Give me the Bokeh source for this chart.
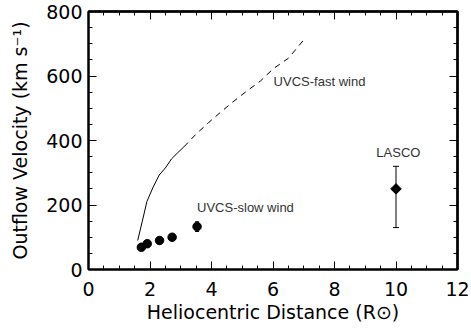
from bokeh.plotting import figure
from bokeh.models import FixedTicker, LinearAxis, Range1d, Whisker, ColumnDataSource, TeeHead
from bokeh.core.properties import value
from bokeh.embed import file_html
from bokeh.resources import INLINE

# ---- data ----
fast_solid_r = [1.6, 1.75, 1.9, 2.1, 2.3, 2.5, 2.7, 2.9, 3.1]
fast_solid_v = [90, 150, 211, 255, 293, 315, 343, 362, 380]
fast_dash_r = [3.1, 3.5, 3.9, 4.3, 4.7, 5.1, 5.6, 6.0, 6.5, 7.0]
fast_dash_v = [380, 420, 455, 488, 520, 550, 585, 622, 655, 712]

slow_r = [1.72, 1.91, 2.31, 2.72, 3.53]
slow_v = [69, 80, 90, 100, 133]
slow_err_r = [3.53]
slow_err_lo = [118]
slow_err_hi = [148]

lasco_r = [10.0]
lasco_v = [250]
lasco_lo = [130]
lasco_hi = [320]

label_text = ["UVCS-fast wind", "UVCS-slow wind", "LASCO"]
label_r = [6.02, 3.53, 9.36]
label_v = [583, 193, 363]

x_major = [0, 2, 4, 6, 8, 10, 12]
x_minor = [i * 0.5 for i in range(25)]
y_major = [0, 200, 400, 600, 800]
y_minor = [i * 50 for i in range(17)]

FONT = "DejaVu Sans"

p = figure(width=471, height=328, output_backend="svg", toolbar_location=None,
           x_range=Range1d(0, 12), y_range=Range1d(0, 800),
           min_border_left=88, min_border_right=14, min_border_top=11, min_border_bottom=59)
p.xgrid.visible = False
p.ygrid.visible = False
p.outline_line_color = "black"
p.outline_line_width = 2


def style_axis(ax, ticks, minors):
    ax.ticker = FixedTicker(ticks=ticks, minor_ticks=minors)
    ax.axis_line_width = 2
    ax.axis_line_color = "black"
    ax.major_tick_in = 8
    ax.major_tick_out = 0
    ax.minor_tick_in = 4
    ax.minor_tick_out = 0
    ax.major_tick_line_color = "black"
    ax.minor_tick_line_color = "black"
    ax.major_label_text_font = FONT
    ax.major_label_text_font_size = "19px"
    ax.major_label_text_color = "black"
    ax.axis_label_text_font = FONT
    ax.axis_label_text_font_size = "19px"
    ax.axis_label_text_font_style = "normal"
    ax.axis_label_text_color = "black"


def tick_only_axis(positions, length):
    # axis with no major ticks (hence no labels); its minor ticks mark the positions
    ax = LinearAxis(ticker=FixedTicker(ticks=[], minor_ticks=positions))
    ax.axis_line_width = 2
    ax.axis_line_color = "black"
    ax.major_tick_in = 0
    ax.major_tick_out = 0
    ax.minor_tick_in = length
    ax.minor_tick_out = 0
    ax.minor_tick_line_color = "black"
    ax.major_label_standoff = 0
    return ax


style_axis(p.xaxis[0], x_major, x_minor)
style_axis(p.yaxis[0], y_major, y_minor)
p.xaxis[0].axis_label = "Heliocentric Distance (R\u2299)"
p.yaxis[0].axis_label = "Outflow Velocity (km s\u207b\u00b9)"
p.xaxis[0].major_label_standoff = 12
p.yaxis[0].major_label_standoff = 6
p.xaxis[0].axis_label_standoff = 2
p.yaxis[0].axis_label_standoff = 12

p.add_layout(tick_only_axis(x_minor, 4), "above")
p.add_layout(tick_only_axis(x_major, 8), "above")
p.add_layout(tick_only_axis(y_minor, 4), "right")
p.add_layout(tick_only_axis(y_major, 8), "right")

# fast wind
p.line(fast_solid_r, fast_solid_v, line_color="black", line_width=1)
p.line(fast_dash_r, fast_dash_v, line_color="black", line_width=1, line_dash="6 5")

# slow wind
err_src = ColumnDataSource(dict(x=slow_err_r, lo=slow_err_lo, hi=slow_err_hi))
p.add_layout(Whisker(source=err_src, base="x", lower="lo", upper="hi", line_width=2,
                     lower_head=TeeHead(size=4, line_width=1), upper_head=TeeHead(size=4, line_width=1)))
p.scatter(slow_r, slow_v, marker="circle", size=8.5, fill_color="black", line_color="black")

# LASCO
las_src = ColumnDataSource(dict(x=lasco_r, lo=lasco_lo, hi=lasco_hi))
p.add_layout(Whisker(source=las_src, base="x", lower="lo", upper="hi", line_width=1,
                     lower_head=TeeHead(size=6, line_width=1), upper_head=TeeHead(size=6, line_width=1)))
p.scatter(lasco_r, lasco_v, marker="square", angle=0.785398, size=7.5, fill_color="black", line_color="black")

p.text(label_r, label_v, text=label_text, text_font=value("Liberation Sans"), text_font_size="13px",
       text_color="#333333", text_baseline="middle", text_align="left")

open("out.html", "w").write(file_html(p, INLINE))
